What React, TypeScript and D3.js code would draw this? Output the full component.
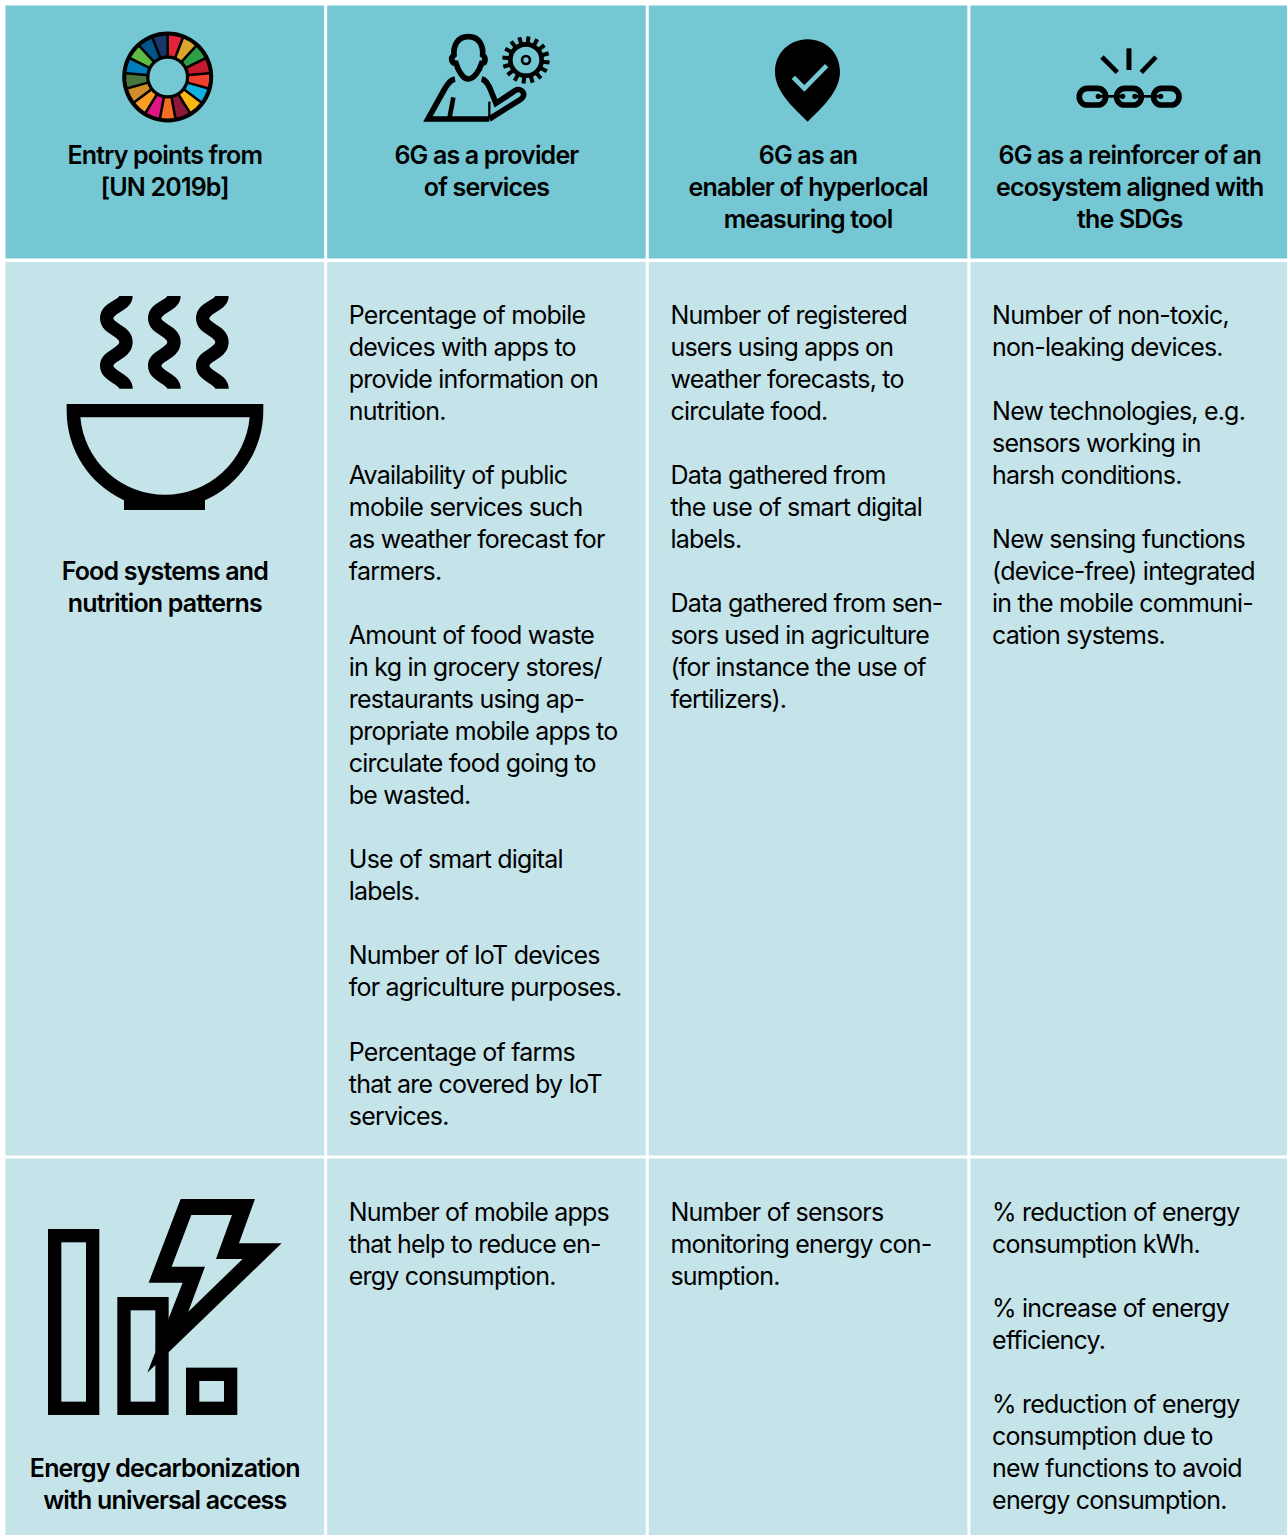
import React from 'react';
import * as d3 from 'd3';

const width = 1287;
const height = 1535;

const columns = ['entry', 'provider', 'enabler', 'reinforcer'];

const headerLines = [
  ['Entry points from', '[UN 2019b]'],
  ['6G as a provider', 'of services'],
  ['6G as an', 'enabler of hyperlocal', 'measuring tool'],
  ['6G as a reinforcer of an', 'ecosystem aligned with', 'the SDGs'],
];

const rowLabels = [
  ['Food systems and', 'nutrition patterns'],
  ['Energy decarbonization', 'with universal access'],
];

const foodProvider = [
  ['Percentage of mobile', 'devices with apps to', 'provide information on', 'nutrition.'],
  ['Availability of public', 'mobile services such', 'as weather forecast for', 'farmers.'],
  ['Amount of food waste', 'in kg in grocery stores/', 'restaurants using ap-', 'propriate mobile apps to', 'circulate food going to', 'be wasted.'],
  ['Use of smart digital', 'labels.'],
  ['Number of IoT devices', 'for agriculture purposes.'],
  ['Percentage of farms', 'that are covered by IoT', 'services.'],
];
const foodEnabler = [
  ['Number of registered', 'users using apps on', 'weather forecasts, to', 'circulate food.'],
  ['Data gathered from', 'the use of smart digital', 'labels.'],
  ['Data gathered from sen-', 'sors used in agriculture', '(for instance the use of', 'fertilizers).'],
];
const foodReinforcer = [
  ['Number of non-toxic,', 'non-leaking devices.'],
  ['New technologies, e.g.', 'sensors working in', 'harsh conditions.'],
  ['New sensing functions', '(device-free) integrated', 'in the mobile communi-', 'cation systems.'],
];
const energyProvider = [['Number of mobile apps', 'that help to reduce en-', 'ergy consumption.']];
const energyEnabler = [['Number of sensors', 'monitoring energy con-', 'sumption.']];
const energyReinforcer = [
  ['% reduction of energy', 'consumption kWh.'],
  ['% increase of energy', 'efficiency.'],
  ['% reduction of energy', 'consumption due to', 'new functions to avoid', 'energy consumption.'],
];

const sdgColors = [
  '#E5243B', '#D9A52E', '#2F9E4A', '#C5192D', '#EF402B', '#0FB1E0', '#FDB713', '#8F1838', '#F36D25',
  '#E11484', '#F99D26', '#CF8D2A', '#48773E', '#007DBC', '#5DBB46', '#02558B', '#183668',
];

const headerFill = '#74C7D3';
const bodyFill = '#C5E4EA';
const fontFamily = 'Inter, sans-serif';
const lineHeight = 32.023;

const x = d3.scaleBand<string>().domain(columns).range([5.5, 1289]).paddingInner(0.0095).paddingOuter(0);

const rowBands = [
  { top: 5.5, bottom: 258.5, fill: headerFill },
  { top: 262, bottom: 1155.5, fill: bodyFill },
  { top: 1158.5, bottom: 1540, fill: bodyFill },
];

function Lines({ lines, cx, y }: { lines: string[]; cx: number; y: number }) {
  return (
    <text fontFamily={fontFamily} fontSize={25} fontWeight={600} letterSpacing={-0.83} textAnchor="middle" fill="#000">
      {lines.map((l, i) => (
        <tspan key={i} x={cx} y={y + i * lineHeight}>{l}</tspan>
      ))}
    </text>
  );
}

function Paragraphs({ paras, px, y }: { paras: string[][]; px: number; y: number }) {
  let n = 0;
  const out: React.ReactNode[] = [];
  paras.forEach((p) => {
    p.forEach((l) => {
      out.push(<text key={n} x={px} y={y + n * lineHeight} fontFamily={fontFamily} fontSize={25} fontWeight={400} letterSpacing={-0.8} fill="#000">{l}</text>);
      n += 1;
    });
    n += 1;
  });
  return <g>{out}</g>;
}

function SdgWheel() {
  const arcs = d3.pie<string>().value(1).sort(null)(sdgColors);
  const arc = d3.arc<d3.PieArcDatum<string>>().innerRadius(21.5).outerRadius(41.5).padAngle(0.055);
  return (
    <g transform="translate(167.7,77)">
      <circle r={45.5} fill="#000" />
      <circle r={18.3} fill={headerFill} />
      {arcs.map((a, i) => <path key={i} d={arc(a) as string} fill={a.data} />)}
    </g>
  );
}

function PersonGear() {
  const teeth = d3.range(16).map((i) => (i * 360) / 16 + 6);
  return (
    <g transform="translate(400,20) scale(0.3333)" fill="none" stroke="#000" strokeWidth={17} strokeLinejoin="miter">
      <path d="M205,50 C170,50 160,80 162,105 C150,115 155,130 168,130 C175,155 190,177 205,177 C220,177 238,155 245,130 C258,130 258,112 248,105 C250,80 240,50 205,50 Z" />
      <path d="M165,177 C150,180 145,190 135,205 L84,297 L268,297" />
      <path d="M245,177 C258,180 262,190 270,205 L288,250 L345,212 C365,200 382,225 362,238 L268,297" />
      <path d="M160,232 L148,297" strokeWidth={14} />
      <path d="M268,245 L268,297" strokeWidth={7} />
      <circle cx={378} cy={120} r={47} strokeWidth={14} />
      <circle cx={378} cy={120} r={12} strokeWidth={8} />
      {teeth.map((a) => (
        <line key={a} x1={378} y1={120 - 50} x2={378} y2={120 - 71} strokeWidth={12} transform={`rotate(${a} 378 120)`} />
      ))}
    </g>
  );
}

function Pin() {
  return (
    <g transform="translate(750,20) scale(0.3333)">
      <path d="M173,305 C130,262 75,215 75,155 C75,100 118,58 173,58 C228,58 270,100 270,155 C270,215 216,262 173,305 Z" fill="#000" />
      <path d="M130,172 L163,205 L230,137" fill="none" stroke={headerFill} strokeWidth={14} />
    </g>
  );
}

function Chain() {
  const links = [
    { lx: 988, w: 79 },
    { lx: 1100, w: 74 },
    { lx: 1211, w: 76 },
  ];
  return (
    <g transform="translate(750,20) scale(0.3333)" fill="none" stroke="#000">
      <line x1={1137} y1={85} x2={1137} y2={150} strokeWidth={15} />
      <line x1={1056} y1={111} x2={1102} y2={157} strokeWidth={14} />
      <line x1={1218} y1={111} x2={1174} y2={157} strokeWidth={14} />
      {links.map((l) => (
        <rect key={l.lx} x={l.lx} y={205} width={l.w} height={50} rx={24} strokeWidth={17} />
      ))}
      <line x1={1040} y1={229} x2={1118} y2={229} strokeWidth={8} />
      <line x1={1155} y1={229} x2={1235} y2={229} strokeWidth={8} />
      {[1045, 1118, 1155, 1232].map((cx) => <circle key={cx} cx={cx} cy={229} r={8} fill="#000" stroke="none" />)}
    </g>
  );
}

function Bowl() {
  return (
    <g transform="translate(40,280) scale(0.3333)">
      {[0, 144, 288].map((dx) => (
        <path
          key={dx}
          transform={`translate(${dx},0)`}
          d="M258,48 C258,78 200,80 200,115 C200,150 258,150 258,187 C258,222 200,225 200,257 C200,290 258,295 258,326"
          fill="none"
          stroke="#000"
          strokeWidth={40}
        />
      ))}
      <path
        fillRule="evenodd"
        fill="#000"
        d="M80,372 H670 V392 A295,295 0 0 1 495,661 V690 H252 V661 A295,295 0 0 1 80,392 Z M121,412 A255,255 0 0 0 629,412 Z"
      />
    </g>
  );
}

function EnergyIcon() {
  const bars = [
    { x0: 54, y0: 132 },
    { x0: 262, y0: 336 },
    { x0: 468, y0: 548 },
  ];
  return (
    <g transform="translate(30,1185) scale(0.3333)">
      {bars.map((b) => (
        <rect key={b.x0} x={b.x0 + 20} y={b.y0 + 20} width={114} height={690 - b.y0 - 40} fill="none" stroke="#000" strokeWidth={40} />
      ))}
      <path
        fillRule="evenodd"
        fill="#000"
        d="M452,42 H675 L627,175 H755 L352,563 L458,293 H356 Z M484,90 L425,245 H525 L475,380 L638,222 H558 L606,90 Z"
      />
    </g>
  );
}

export default function App() {
  const cols = columns.map((c) => x(c) as number);
  const bw = x.bandwidth();
  const centers = cols.map((c) => c + bw / 2);
  const textX = cols.map((c) => c + 21.7);

  return (
    <svg width={width} height={height} style={{ position: 'absolute', left: 0, top: 0, background: '#fff' }}>
      {rowBands.map((r) =>
        columns.map((c) => (
          <rect key={`${c}-${r.top}`} x={x(c)} y={r.top} width={bw} height={r.bottom - r.top} fill={r.fill} />
        )),
      )}

      <SdgWheel />
      <PersonGear />
      <Pin />
      <Chain />
      <Bowl />
      <EnergyIcon />

      {headerLines.map((lines, i) => (
        <Lines key={i} lines={lines} cx={centers[i]} y={164} />
      ))}
      <Lines lines={rowLabels[0]} cx={centers[0]} y={580} />
      <Lines lines={rowLabels[1]} cx={centers[0]} y={1477} />

      <Paragraphs paras={foodProvider} px={textX[1]} y={324} />
      <Paragraphs paras={foodEnabler} px={textX[2]} y={324} />
      <Paragraphs paras={foodReinforcer} px={textX[3]} y={324} />
      <Paragraphs paras={energyProvider} px={textX[1]} y={1221} />
      <Paragraphs paras={energyEnabler} px={textX[2]} y={1221} />
      <Paragraphs paras={energyReinforcer} px={textX[3]} y={1221} />
    </svg>
  );
}
